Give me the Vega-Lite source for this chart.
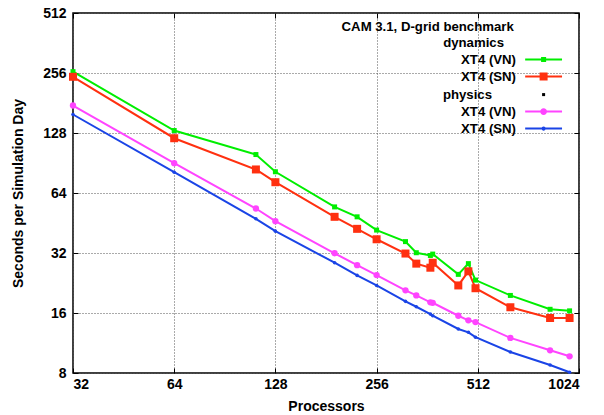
{
  "$schema": "https://vega.github.io/schema/vega-lite/v6.json",
  "width": 506,
  "height": 360,
  "autosize": "none",
  "padding": {"left": 73, "top": 13, "right": 25, "bottom": 42},
  "background": "white",
  "config": {
    "font": "Liberation Sans",
    "view": {"stroke": "black", "strokeWidth": 1.5},
    "axis": {
      "labelFont": "Liberation Sans",
      "labelFontWeight": "bold",
      "labelFontSize": 14,
      "labelColor": "black",
      "titleFont": "Liberation Sans",
      "titleFontWeight": "bold",
      "titleFontSize": 14,
      "titleColor": "black",
      "domain": false,
      "tickColor": "black",
      "tickWidth": 1,
      "tickSize": -5,
      "gridColor": "#555555",
      "gridDash": [1, 2],
      "gridWidth": 1,
      "gridOpacity": 1
    }
  },
  "data": {
    "values": [
      {"p": 32, "s": 260, "k": "dyn_VN"},
      {"p": 64, "s": 131.7, "k": "dyn_VN"},
      {"p": 112, "s": 99.8, "k": "dyn_VN"},
      {"p": 128, "s": 81.8, "k": "dyn_VN"},
      {"p": 192, "s": 54.5, "k": "dyn_VN"},
      {"p": 224, "s": 48.6, "k": "dyn_VN"},
      {"p": 256, "s": 41.7, "k": "dyn_VN"},
      {"p": 312, "s": 36.5, "k": "dyn_VN"},
      {"p": 336, "s": 32.1, "k": "dyn_VN"},
      {"p": 370, "s": 31.1, "k": "dyn_VN"},
      {"p": 376, "s": 31.6, "k": "dyn_VN"},
      {"p": 448, "s": 25.0, "k": "dyn_VN"},
      {"p": 480, "s": 28.3, "k": "dyn_VN"},
      {"p": 504, "s": 23.4, "k": "dyn_VN"},
      {"p": 640, "s": 19.6, "k": "dyn_VN"},
      {"p": 840, "s": 16.7, "k": "dyn_VN"},
      {"p": 960, "s": 16.4, "k": "dyn_VN"},

      {"p": 32, "s": 245, "k": "dyn_SN"},
      {"p": 64, "s": 120.5, "k": "dyn_SN"},
      {"p": 112, "s": 84.0, "k": "dyn_SN"},
      {"p": 128, "s": 72.5, "k": "dyn_SN"},
      {"p": 192, "s": 48.6, "k": "dyn_SN"},
      {"p": 224, "s": 42.3, "k": "dyn_SN"},
      {"p": 256, "s": 37.5, "k": "dyn_SN"},
      {"p": 312, "s": 31.8, "k": "dyn_SN"},
      {"p": 336, "s": 28.3, "k": "dyn_SN"},
      {"p": 370, "s": 27.0, "k": "dyn_SN"},
      {"p": 376, "s": 28.6, "k": "dyn_SN"},
      {"p": 448, "s": 22.0, "k": "dyn_SN"},
      {"p": 480, "s": 25.9, "k": "dyn_SN"},
      {"p": 504, "s": 21.3, "k": "dyn_SN"},
      {"p": 640, "s": 17.1, "k": "dyn_SN"},
      {"p": 840, "s": 15.1, "k": "dyn_SN"},
      {"p": 960, "s": 15.1, "k": "dyn_SN"},

      {"p": 32, "s": 175.8, "k": "phy_VN"},
      {"p": 64, "s": 90.3, "k": "phy_VN"},
      {"p": 112, "s": 53.5, "k": "phy_VN"},
      {"p": 128, "s": 46.2, "k": "phy_VN"},
      {"p": 192, "s": 31.9, "k": "phy_VN"},
      {"p": 224, "s": 27.8, "k": "phy_VN"},
      {"p": 256, "s": 24.8, "k": "phy_VN"},
      {"p": 312, "s": 20.8, "k": "phy_VN"},
      {"p": 336, "s": 19.6, "k": "phy_VN"},
      {"p": 370, "s": 18.1, "k": "phy_VN"},
      {"p": 376, "s": 18.0, "k": "phy_VN"},
      {"p": 448, "s": 15.5, "k": "phy_VN"},
      {"p": 480, "s": 14.7, "k": "phy_VN"},
      {"p": 504, "s": 14.4, "k": "phy_VN"},
      {"p": 640, "s": 12.0, "k": "phy_VN"},
      {"p": 840, "s": 10.4, "k": "phy_VN"},
      {"p": 960, "s": 9.7, "k": "phy_VN"},

      {"p": 32, "s": 158.5, "k": "phy_SN"},
      {"p": 64, "s": 81.4, "k": "phy_SN"},
      {"p": 112, "s": 47.5, "k": "phy_SN"},
      {"p": 128, "s": 41.2, "k": "phy_SN"},
      {"p": 192, "s": 28.6, "k": "phy_SN"},
      {"p": 224, "s": 24.7, "k": "phy_SN"},
      {"p": 256, "s": 22.0, "k": "phy_SN"},
      {"p": 312, "s": 18.3, "k": "phy_SN"},
      {"p": 336, "s": 17.2, "k": "phy_SN"},
      {"p": 370, "s": 15.8, "k": "phy_SN"},
      {"p": 376, "s": 15.5, "k": "phy_SN"},
      {"p": 448, "s": 13.3, "k": "phy_SN"},
      {"p": 480, "s": 12.8, "k": "phy_SN"},
      {"p": 504, "s": 12.1, "k": "phy_SN"},
      {"p": 640, "s": 10.2, "k": "phy_SN"},
      {"p": 840, "s": 8.77, "k": "phy_SN"},
      {"p": 960, "s": 8.07, "k": "phy_SN"}
    ]
  },
  "layer": [
    {
      "mark": {"type": "line", "strokeWidth": 2},
      "encoding": {
        "x": {
          "field": "p",
          "type": "quantitative",
          "scale": {"type": "log", "base": 2, "domain": [32, 1024], "nice": false},
          "axis": {
            "orient": "bottom",
            "values": [32, 64, 128, 256, 512, 1024],
            "format": "d",
            "title": "Processors",
            "grid": true,
            "labelPadding": 9,
            "titlePadding": 8
          }
        },
        "y": {
          "field": "s",
          "type": "quantitative",
          "scale": {"type": "log", "base": 2, "domain": [8, 512], "nice": false},
          "axis": {
            "orient": "left",
            "values": [8, 16, 32, 64, 128, 256, 512],
            "format": "d",
            "title": "Seconds per Simulation Day",
            "grid": true,
            "labelPadding": 12,
            "titlePadding": 17
          }
        },
        "color": {
          "field": "k",
          "type": "nominal",
          "scale": {
            "domain": ["dynamics", "dyn_VN", "dyn_SN", "physics", "phy_VN", "phy_SN"],
            "range": ["transparent", "#00ee00", "#ff3010", "#000000", "#ff44ff", "#1a44e6"]
          },
          "legend": {
            "title": "CAM 3.1, D-grid benchmark",
            "orient": "top-right",
            "offset": 5.5,
            "padding": 0,
            "titleFont": "Liberation Sans",
            "titleFontSize": 13.2,
            "titleFontWeight": "bold",
            "titleColor": "black",
            "titleAnchor": "end",
            "titleLimit": 400,
            "titlePadding": 3.8,
            "labelFont": "Liberation Sans",
            "labelFontSize": 13.2,
            "labelFontWeight": "bold",
            "labelColor": "black",
            "labelAlign": "right",
            "labelOffset": -34.2,
            "labelLimit": 300,
            "rowPadding": 3,
            "symbolType": "M-4,0H4",
            "symbolSize": 85,
            "symbolStrokeWidth": 2,
            "labelExpr": "datum.value === 'dynamics' ? 'dynamics' : datum.value === 'physics' ? 'physics' : indexof(datum.value, 'VN') >= 0 ? 'XT4 (VN)' : 'XT4 (SN)'",
            "encode": {
              "symbols": {
                "update": {
                  "shape": {"signal": "datum.value === 'dyn_VN' ? 'M-4,0H4M-0.33,-0.33H0.33V0.33H-0.33ZM5.7,0' : datum.value === 'dyn_SN' ? 'M-4,0H4M-0.65,-0.65H0.65V0.65H-0.65Z' : datum.value === 'phy_VN' ? 'M-4,0H4M0.52,0A0.52,0.52 0 1 1 -0.52,0A0.52,0.52 0 1 1 0.52,0Z' : datum.value === 'phy_SN' ? 'M-4,0H4M0.24,0A0.24,0.24 0 1 1 -0.24,0A0.24,0.24 0 1 1 0.24,0Z' : 'M-0.11,-0.11H0.11V0.11H-0.11Z'"},
                  "fill": {"scale": "color", "field": "value"},
                  "stroke": {"scale": "color", "field": "value"},
                  "strokeWidth": {"value": 2},
                  "opacity": {"value": 1}
                }
              },
              "labels": {
                "update": {
                  "dx": {"signal": "datum.value === 'dynamics' ? -12 : datum.value === 'physics' ? -24 : 0"}
                }
              },
              "title": {"update": {"dx": {"value": -60.2}, "dy": {"value": 2.4}}}
            }
          }
        }
      }
    },
    {
      "transform": [{"filter": "datum.k === 'dyn_VN'"}],
      "mark": {"type": "point", "filled": true, "opacity": 1, "shape": "square", "size": 25},
      "encoding": {
        "x": {
          "field": "p",
          "type": "quantitative",
          "axis": {"orient": "top", "values": [32, 64, 128, 256, 512, 1024], "labels": false, "title": null, "grid": false}
        },
        "y": {
          "field": "s",
          "type": "quantitative",
          "axis": {"orient": "right", "values": [8, 16, 32, 64, 128, 256, 512], "labels": false, "title": null, "grid": false}
        },
        "color": {"field": "k", "type": "nominal", "legend": null}
      }
    },
    {
      "transform": [{"filter": "datum.k === 'dyn_SN'"}],
      "mark": {"type": "point", "filled": true, "opacity": 1, "shape": "square", "size": 64},
      "encoding": {
        "x": {"field": "p", "type": "quantitative", "axis": null},
        "y": {"field": "s", "type": "quantitative", "axis": null},
        "color": {"field": "k", "type": "nominal", "legend": null}
      }
    },
    {
      "transform": [{"filter": "datum.k === 'phy_VN'"}],
      "mark": {"type": "point", "filled": true, "opacity": 1, "shape": "circle", "size": 40},
      "encoding": {
        "x": {"field": "p", "type": "quantitative", "axis": null},
        "y": {"field": "s", "type": "quantitative", "axis": null},
        "color": {"field": "k", "type": "nominal", "legend": null}
      }
    },
    {
      "transform": [{"filter": "datum.k === 'phy_SN'"}],
      "mark": {"type": "point", "filled": true, "opacity": 1, "shape": "circle", "size": 13},
      "encoding": {
        "x": {"field": "p", "type": "quantitative", "axis": null},
        "y": {"field": "s", "type": "quantitative", "axis": null},
        "color": {"field": "k", "type": "nominal", "legend": null}
      }
    }
  ],
  "resolve": {"axis": {"x": "independent", "y": "independent"}}
}
